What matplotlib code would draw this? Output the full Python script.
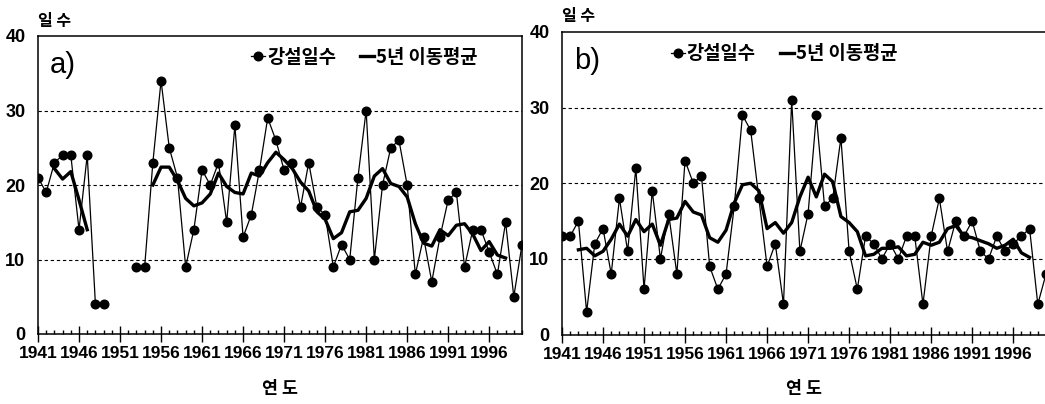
import numpy as np
import matplotlib
matplotlib.use("Agg")
import matplotlib.pyplot as plt

# --------------------------------------------------
# Data (days of snowfall per year)
# --------------------------------------------------
years = list(range(1941, 2001))
nan = np.nan

# a) snowfall days (1950-1952 missing)
snow_a = [21, 19, 23, 24, 24, 14, 24, 4, 4, nan,
          nan, nan, 9, 9, 23, 34, 25, 21, 9, 14,
          22, 20, 23, 15, 28, 13, 16, 22, 29, 26,
          22, 23, 17, 23, 17, 16, 9, 12, 10, 21,
          30, 10, 20, 25, 26, 20, 8, 13, 7, 13,
          18, 19, 9, 14, 14, 11, 8, 15, 5, 12]

# a) 5-year moving average
ma_a = [nan, nan, 22.2, 20.8, 21.8, 18.0, 14.0, nan, nan, nan,
        nan, nan, nan, nan, 20.0, 22.4, 22.4, 20.6, 18.2, 17.2,
        17.6, 18.8, 21.6, 19.8, 19.0, 18.8, 21.6, 21.2, 23.0, 24.4,
        23.4, 22.2, 20.4, 19.2, 16.4, 15.4, 12.8, 13.6, 16.4, 16.6,
        18.2, 21.2, 22.2, 20.2, 19.8, 18.4, 14.8, 12.2, 11.8, 14.0,
        13.2, 14.6, 14.8, 13.4, 11.2, 12.4, 10.6, 10.2, nan, nan]

# b) snowfall days
snow_b = [13, 13, 15, 3, 12, 14, 8, 18, 11, 22,
          6, 19, 10, 16, 8, 23, 20, 21, 9, 6,
          8, 17, 29, 27, 18, 9, 12, 4, 31, 11,
          16, 29, 17, 18, 26, 11, 6, 13, 12, 10,
          12, 10, 13, 13, 4, 13, 18, 11, 15, 13,
          15, 11, 10, 13, 11, 12, 13, 14, 4, 8]

# b) 5-year moving average
ma_b = [nan, nan, 11.2, 11.4, 10.4, 11.0, 12.6, 14.6, 13.0, 15.2,
        13.6, 14.6, 11.8, 15.2, 15.4, 17.6, 16.2, 15.8, 12.8, 12.2,
        13.8, 17.4, 19.8, 20.0, 19.0, 14.0, 14.8, 13.4, 14.8, 18.2,
        20.8, 18.2, 21.2, 20.2, 15.6, 14.8, 13.6, 10.4, 10.6, 11.4,
        11.4, 11.6, 10.4, 10.6, 12.2, 11.8, 12.2, 14.0, 14.4, 13.0,
        12.8, 12.4, 12.0, 11.4, 11.8, 12.6, 10.8, 10.2, nan, nan]

major_years = list(range(1941, 2000, 5))
y_ticks = [0, 10, 20, 30, 40]

KO = ['Noto Sans CJK KR', 'DejaVu Sans']
NARROW = ['Liberation Sans Narrow', 'Liberation Sans']
SANS = ['Liberation Sans', 'DejaVu Sans']

fig = plt.figure(figsize=(10.45, 4.04), dpi=100)
ax_a = fig.add_axes([38 / 1045, 70 / 404, 484 / 1045, 298 / 404])
ax_b = fig.add_axes([562 / 1045, 69.5 / 404, 484 / 1045, 302.5 / 404])


def draw_panel(ax, snow, ma, tag, legend_x):
    for y in (10, 20, 30):
        ax.axhline(y, color='black', lw=0.8, ls=(0, (3, 2.5)), zorder=0)
    ax.plot(years, snow, color='black', lw=0.9, marker='o', ms=6.2,
            label='강설일수', zorder=3)
    ax.plot(years, ma, color='black', lw=2.4, label='5년 이동평균', zorder=2)

    ax.set_xlim(1941, 2000)
    ax.set_ylim(0, 40)
    ax.set_xticks(major_years)
    ax.set_xticks(years, minor=True)
    ax.set_yticks(y_ticks)
    ax.tick_params(axis='x', which='major', direction='inout', length=12,
                   width=1, pad=3)
    ax.tick_params(axis='x', which='minor', direction='in', length=3, width=1)
    ax.tick_params(axis='y', length=0, pad=9)
    for lab in ax.get_xticklabels():
        lab.set_fontfamily(NARROW)
        lab.set_fontweight('bold')
        lab.set_fontsize(12.5)
    for lab in ax.get_yticklabels():
        lab.set_fontfamily(SANS)
        lab.set_fontweight('bold')
        lab.set_fontsize(13)
    for sp in ax.spines.values():
        sp.set_linewidth(1.1)

    ax.set_xlabel('연 도', family=KO, fontweight='bold', fontsize=12.5,
                  labelpad=13)
    ax.text(0.0, 1.025, '일 수', transform=ax.transAxes, ha='left',
            va='bottom', family=KO, fontweight='bold', fontsize=11.5)
    ax.text(0.025, 0.95, tag, transform=ax.transAxes, ha='left', va='top',
            family=SANS, fontsize=21)
    ax.legend(loc='upper left', bbox_to_anchor=(legend_x, 0.96), ncol=2,
              frameon=False, handlelength=0.75, handletextpad=0.1,
              columnspacing=1.3, borderaxespad=0, borderpad=0,
              prop={'family': KO, 'weight': 'bold', 'size': 13.5})


draw_panel(ax_a, snow_a, ma_a, 'a)', 0.44)
draw_panel(ax_b, snow_b, ma_b, 'b)', 0.225)

fig.savefig('out.png', dpi=100, facecolor='white')
